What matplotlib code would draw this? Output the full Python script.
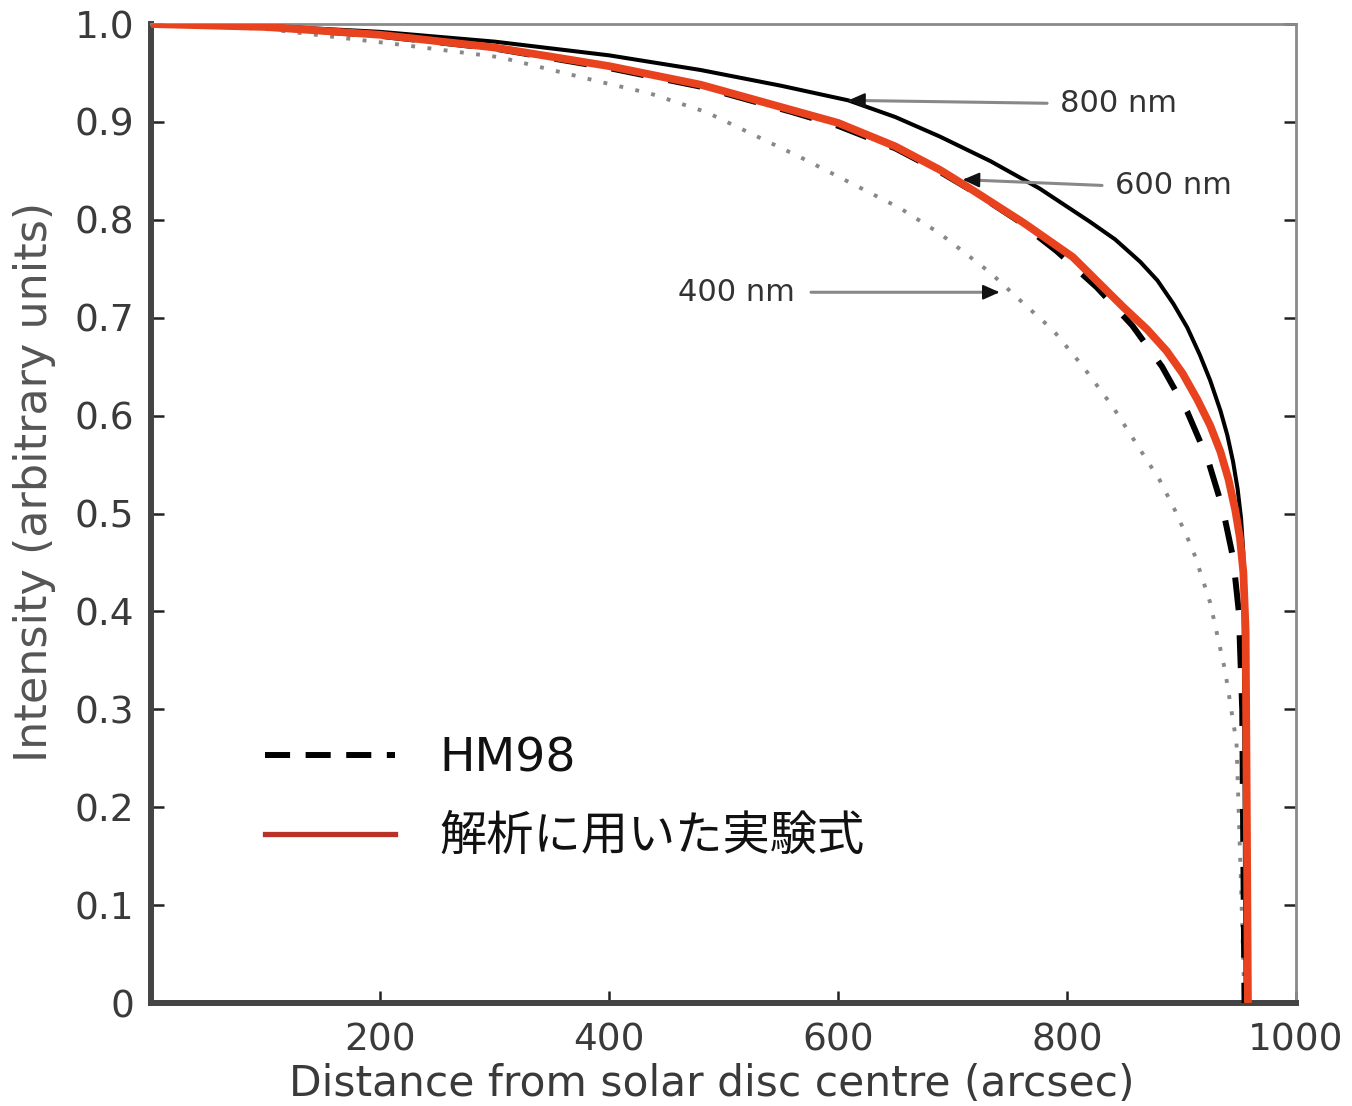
import matplotlib
matplotlib.use("Agg")
import matplotlib.pyplot as plt
from matplotlib.lines import Line2D

# ---- data ----
x_800 = [0, 100, 200, 300, 400, 480, 550, 609, 650, 689, 733, 776, 820, 842, 864, 879, 893, 905, 916, 925, 934, 940, 945, 949, 952, 954, 956]
y_800 = [1.0, 0.998, 0.992, 0.982, 0.968, 0.953, 0.937, 0.922, 0.905, 0.885, 0.860, 0.832, 0.798, 0.780, 0.757, 0.738, 0.714, 0.690, 0.662, 0.636, 0.605, 0.580, 0.553, 0.525, 0.495, 0.46, 0.0]

x_fit = [0, 100, 200, 300, 400, 480, 560, 600, 650, 689, 718, 762, 805, 849, 870, 887, 901, 914, 925, 934, 941, 947, 951, 954, 956, 957, 958]
y_fit = [1.0, 0.997, 0.989, 0.976, 0.957, 0.938, 0.912, 0.899, 0.875, 0.851, 0.830, 0.797, 0.762, 0.711, 0.688, 0.666, 0.643, 0.616, 0.590, 0.563, 0.535, 0.503, 0.475, 0.44, 0.38, 0.20, 0.0]

x_hm98 = [0, 100, 200, 300, 400, 480, 560, 600, 650, 689, 718, 756, 791, 826, 857, 883, 905, 923, 936, 945, 950, 953, 955]
y_hm98 = [1.0, 0.997, 0.988, 0.975, 0.955, 0.936, 0.910, 0.896, 0.873, 0.849, 0.829, 0.800, 0.768, 0.731, 0.692, 0.650, 0.604, 0.555, 0.505, 0.455, 0.40, 0.30, 0.0]

x_400 = [0, 100, 217, 305, 392, 436, 485, 567, 654, 689, 733, 756, 788, 814, 840, 864, 881, 894, 906, 912, 925, 938, 948, 952, 955]
y_400 = [1.0, 0.995, 0.979, 0.966, 0.941, 0.929, 0.910, 0.864, 0.812, 0.786, 0.746, 0.721, 0.687, 0.650, 0.609, 0.565, 0.534, 0.504, 0.473, 0.456, 0.409, 0.34, 0.266, 0.12, 0.0]

x_ticks = [200, 400, 600, 800, 1000]
y_ticks = [0, 0.1, 0.2, 0.3, 0.4, 0.5, 0.6, 0.7, 0.8, 0.9, 1.0]
y_ticklabels = ["0", "0.1", "0.2", "0.3", "0.4", "0.5", "0.6", "0.7", "0.8", "0.9", "1.0"]

legend_labels = ["HM98", "解析に用いた実験式"]
annot_texts = ["800 nm", "600 nm", "400 nm"]

plt.rcParams['font.family'] = ['DejaVu Sans', 'Noto Sans CJK JP']

fig = plt.figure(figsize=(13.52, 11.06), dpi=100)
ax = fig.add_axes([0.1117, 0.0931, 0.8469, 0.8852])

red = '#e8431e'
ax.plot(x_400, y_400, color='#888888', lw=2.8, linestyle=(0, (1, 3.2)), zorder=2)
ax.plot(x_800, y_800, color='black', lw=2.9, zorder=3)
ax.plot(x_hm98, y_hm98, color='black', lw=4.3, linestyle=(0, (5.5, 4.2)), zorder=4)
ax.plot(x_fit, y_fit, color=red, lw=5.6, zorder=5, solid_capstyle='butt')

ax.set_xlim(0, 1000)
ax.set_ylim(0, 1.0)
ax.set_xticks(x_ticks)
ax.set_xticklabels([str(t) for t in x_ticks])
ax.set_yticks(y_ticks)
ax.set_yticklabels(y_ticklabels)

for s in ['left', 'bottom']:
    ax.spines[s].set_linewidth(4.3)
    ax.spines[s].set_color('#444444')
for s in ['top', 'right']:
    ax.spines[s].set_linewidth(2.0)
    ax.spines[s].set_color('#8a8a8a')

ax.tick_params(axis='both', direction='in', length=9, width=1.8, colors='#222222',
               labelsize=27, labelcolor='#3a3a3a')
ax.tick_params(axis='y', right=True, pad=12)
ax.tick_params(axis='x', pad=14)
ax.tick_params(axis='y', which='both', labelright=False)
for t in ax.yaxis.get_ticklines()[1::2]:
    t.set_color('#777777')

ax.set_xlabel("Distance from solar disc centre (arcsec)", fontsize=30.5, color='#3a3a3a')
ax.xaxis.set_label_coords(0.49, -0.061)
ax.set_ylabel("Intensity (arbitrary units)", fontsize=32, color='#555555')
ax.yaxis.set_label_coords(-0.083, 0.532)

# annotations
def arrow(text, tx, ty, sx, tipx, tipy, ha):
    ax.text(tx, ty, text, fontsize=22, color='#333333', ha=ha, va='center', zorder=6)
    ax.annotate('', xy=(tipx, tipy), xytext=(sx, tipy if ha == 'right' else ty),
                arrowprops=dict(arrowstyle='-', color='#888888', lw=2.2), zorder=6)
    dx = 14 if tipx < sx else -14
    ax.annotate('', xy=(tipx, tipy), xytext=(tipx + dx, tipy + (ty - tipy) * 0.06),
                arrowprops=dict(arrowstyle='-|>,head_length=1.0,head_width=0.45', color='#111111', lw=1.5,
                                shrinkA=0, shrinkB=0), zorder=6)

arrow(annot_texts[0], 794, 0.919, 785, 609, 0.922, 'left')
arrow(annot_texts[1], 842, 0.835, 833, 709, 0.841, 'left')
arrow(annot_texts[2], 562, 0.726, 574, 741, 0.726, 'right')

handles = [Line2D([], [], color='black', lw=4.3, linestyle=(0, (4.2, 2.6))),
           Line2D([], [], color='#b8322a', lw=3.8)]
leg = ax.legend(handles, legend_labels, loc='lower left', bbox_to_anchor=(0.0996, 0.146),
                frameon=False, fontsize=34, handlelength=2.75, handletextpad=0.95,
                labelspacing=0.72, borderpad=0, borderaxespad=0)
for t in leg.get_texts():
    t.set_color('#111111')

fig.savefig('out.png', dpi=100)
